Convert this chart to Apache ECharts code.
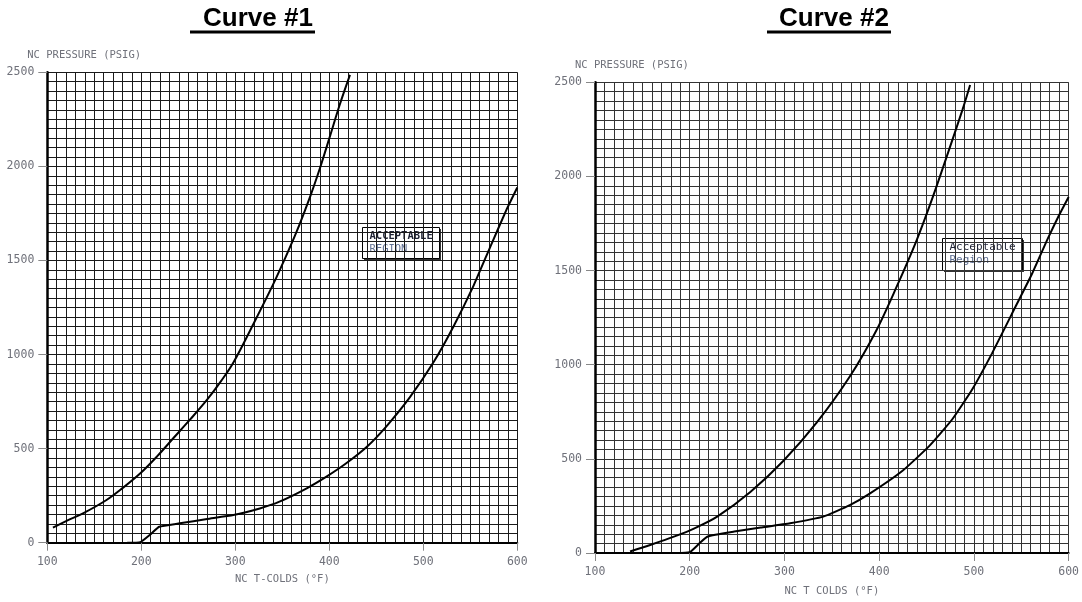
<!DOCTYPE html>
<html>
<head>
<meta charset="utf-8">
<script src="https://cdn.jsdelivr.net/npm/echarts@6/dist/echarts.min.js"></script>
<style>
html,body{margin:0;padding:0;background:#fff;}
#c{width:1082px;height:602px;}
</style>
</head>
<body>
<div id="c"></div>
<script>
// ---- Data (temperature °F, pressure psig) ----
const titles = ['Curve #1', 'Curve #2'];
const xAxisNames = ['NC T-COLDS (°F)', 'NC T COLDS (°F)'];
const yAxisName = 'NC PRESSURE (PSIG)';
const regionLabels1 = ['ACCEPTABLE', 'REGION'];
const regionLabels2 = ['Acceptable', 'Region'];

const curve1Upper = [[106,80],[120,115],[138,156],[163,227],[180,290],[199,369],[217,460],[234,555],[252,655],[270,760],[285,860],[298,958],[319,1160],[340,1370],[351,1490],[365,1650],[380,1845],[390,1990],[401,2165],[411,2326],[422,2486]];
const curve1Lower = [[185,0],[199,3],[210,45],[219,85],[241,103],[270,126],[298,147],[326,182],[347,218],[376,289],[397,351],[418,422],[440,510],[461,620],[486,775],[511,960],[532,1148],[553,1361],[571,1570],[589,1775],[600,1888]];

const curve2Upper = [[137,8],[159,44],[184,88],[205,131],[229,193],[264,324],[299,490],[334,692],[369,937],[397,1182],[418,1409],[439,1654],[456,1882],[474,2145],[488,2355],[496,2486]];
const curve2Lower = [[185,0],[200,5],[210,50],[219,88],[247,114],[275,135],[306,158],[341,193],[369,254],[390,315],[425,438],[453,569],[477,709],[498,867],[519,1059],[540,1269],[561,1479],[578,1670],[590,1795],[600,1891]];

const xMin = 100, xMax = 600, xStep = 100;
const yMin = 0, yMax = 2500, yStep = 500;

const gridColors = ['#1a1a1a', '#333333'];
const labelColor = '#6f717a';
const mono = "'DejaVu Sans Mono', 'Liberation Mono', monospace";

function xAxisFor(i, name) {
  return {
    type: 'value', gridIndex: i, min: xMin, max: xMax, interval: xStep,
    name: name, nameLocation: 'middle', nameGap: i === 0 ? 31 : 33,
    nameTextStyle: { color: labelColor, fontFamily: mono, fontSize: 10.5 },
    axisLine: { show: true, lineStyle: { color: '#000', width: 2 } },
    axisTick: { show: true, length: 8, lineStyle: { color: '#888', width: 1 } },
    axisLabel: { color: labelColor, fontFamily: mono, fontSize: 11.5, margin: 13 },
    splitLine: { show: true, lineStyle: { color: gridColors[i], width: 1 } },
    minorTick: { show: false, splitNumber: 10 },
    minorSplitLine: { show: true, lineStyle: { color: gridColors[i], width: 1 } }
  };
}
function yAxisFor(i) {
  return {
    type: 'value', gridIndex: i, min: yMin, max: yMax, interval: yStep,
    name: yAxisName, nameLocation: 'end', nameGap: 12,
    nameTextStyle: { color: labelColor, fontFamily: mono, fontSize: 10.5, align: 'left', padding: [0,0,0,-20] },
    axisLine: { show: true, lineStyle: { color: '#000', width: 2.5 } },
    axisTick: { show: true, length: 9, lineStyle: { color: '#888', width: 1 } },
    axisLabel: { color: labelColor, fontFamily: mono, fontSize: 11.5, margin: 13, formatter: function (v) { return String(v); } },
    splitLine: { show: true, lineStyle: { color: gridColors[i], width: 1 } },
    minorTick: { show: false, splitNumber: 10 },
    minorSplitLine: { show: true, lineStyle: { color: gridColors[i], width: 1 } }
  };
}
function curve(i, data, sm) {
  return {
    type: 'line', xAxisIndex: i, yAxisIndex: i, data: data,
    showSymbol: false, smooth: sm,
    lineStyle: { color: '#000', width: 2 }, z: 5, silent: true
  };
}
function regionBox(x, y, w, h, lines, size, bold) {
  return {
    type: 'group', left: x, top: y, z: 100,
    children: [
      { type: 'rect', shape: { x: 1.5, y: 1.5, width: w, height: h }, style: { fill: '#333' } },
      { type: 'rect', shape: { x: 0, y: 0, width: w, height: h }, style: { fill: '#fff', stroke: '#000', lineWidth: 1 } },
      { type: 'text', x: 7, y: 3, style: { text: lines[0], fill: '#1e2235', font: (bold ? 'bold ' : '') + size + 'px ' + mono } },
      { type: 'text', x: 7, y: 3 + size + 2.5, style: { text: lines[1], fill: '#5f6f92', font: size + 'px ' + mono } }
    ]
  };
}

const chart = echarts.init(document.getElementById('c'), null, { renderer: 'canvas' });
chart.setOption({
  backgroundColor: '#fff',
  animation: false,
  title: [
    { text: titles[0], left: 253, top: 1, textAlign: 'center', textStyle: { fontFamily: "'Liberation Sans', Arial, sans-serif", fontWeight: 'bold', fontSize: 26, color: '#000' } },
    { text: titles[1], left: 829, top: 1, textAlign: 'center', textStyle: { fontFamily: "'Liberation Sans', Arial, sans-serif", fontWeight: 'bold', fontSize: 26, color: '#000' } }
  ],
  grid: [
    { left: 47.3, top: 72.3, width: 470, height: 470.4 },
    { left: 595, top: 82.3, width: 477, height: 476 }
  ],
  xAxis: [xAxisFor(0, xAxisNames[0]), xAxisFor(1, xAxisNames[1])],
  yAxis: [yAxisFor(0), yAxisFor(1)],
  series: [
    curve(0, curve1Upper, 0.35), curve(0, curve1Lower, 0.15),
    curve(1, curve2Upper, 0.3), curve(1, curve2Lower, 0.15)
  ],
  graphic: [
    { type: 'line', shape: { x1: 190, y1: 32, x2: 315, y2: 32 }, style: { stroke: '#000', lineWidth: 3 } },
    { type: 'line', shape: { x1: 767, y1: 32, x2: 891, y2: 32 }, style: { stroke: '#000', lineWidth: 3 } },
    regionBox(362, 227, 77, 31, regionLabels1, 10.5, true),
    regionBox(942, 238, 80, 32, regionLabels2, 11, false)
  ]
});
</script>
</body>
</html>
